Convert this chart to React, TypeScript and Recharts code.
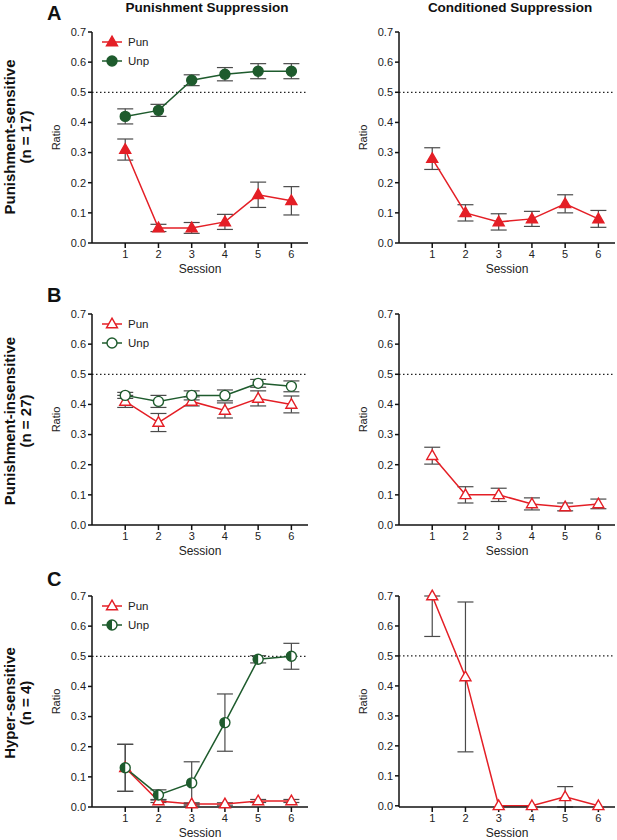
import { LineChart, Line, XAxis, YAxis, ErrorBar, ReferenceLine, Legend, Label } from 'recharts';

const RED = '#e41f26';
const GREEN = '#1e5b2d';
const BAR = '#4a4a4a';
const FONT = '"Liberation Sans", Arial, sans-serif';

const sessions = [1, 2, 3, 4, 5, 6];
const ratioTicks = [0, 0.1, 0.2, 0.3, 0.4, 0.5, 0.6, 0.7];

// A: punishment-sensitive (n = 17)
const sensitivePun = [0.31, 0.05, 0.05, 0.07, 0.16, 0.14];
const sensitivePunErr = [0.035, 0.012, 0.018, 0.025, 0.042, 0.047];
const sensitiveUnp = [0.42, 0.44, 0.54, 0.56, 0.57, 0.57];
const sensitiveUnpErr = [0.025, 0.02, 0.018, 0.022, 0.025, 0.025];
const sensitiveCond = [0.28, 0.1, 0.07, 0.08, 0.13, 0.08];
const sensitiveCondErr = [0.036, 0.027, 0.027, 0.025, 0.03, 0.028];

// B: punishment-insensitive (n = 27)
const insensitivePun = [0.41, 0.34, 0.41, 0.38, 0.42, 0.4];
const insensitivePunErr = [0.02, 0.03, 0.015, 0.025, 0.025, 0.028];
const insensitiveUnp = [0.43, 0.41, 0.43, 0.43, 0.47, 0.46];
const insensitiveUnpErr = [0.01, 0.02, 0.015, 0.018, 0.013, 0.018];
const insensitiveCond = [0.23, 0.1, 0.1, 0.07, 0.06, 0.07];
const insensitiveCondErr = [0.028, 0.027, 0.022, 0.02, 0.013, 0.016];

// C: hyper-sensitive (n = 4)
const hyperPun = [0.13, 0.02, 0.01, 0.01, 0.02, 0.02];
const hyperPunErr = [0.078, 0.005, 0.004, 0.004, 0.005, 0.005];
const hyperUnp = [0.13, 0.04, 0.08, 0.28, 0.49, 0.5];
const hyperUnpErr = [0.078, 0.017, 0.07, 0.095, 0.012, 0.043];
const hyperCond = [0.7, 0.43, 0, 0, 0.03, 0];
const hyperCondErr: (number | number[])[] = [[0.135, 0], 0.25, 0, 0, 0.034, 0];

type Shape = 'triangle' | 'circle' | 'half';

type Series = {
  key: string;
  name: string;
  color: string;
  shape: Shape;
  filled: boolean;
  values: number[];
  errors: (number | number[])[];
};

const marker = (s: Series, cx: number, cy: number, key?: string) => {
  const fill = s.filled ? s.color : '#fff';
  if (s.shape === 'triangle') {
    return (
      <path
        key={key}
        d={`M${cx},${cy - 5.8}L${cx + 5.5},${cy + 3.8}L${cx - 5.5},${cy + 3.8}Z`}
        fill={fill}
        stroke={s.color}
        strokeWidth={1.4}
      />
    );
  }
  if (s.shape === 'half') {
    return (
      <g key={key}>
        <circle cx={cx} cy={cy} r={5} fill="#fff" stroke={s.color} strokeWidth={1.4} />
        <path d={`M${cx},${cy - 5}A5,5 0 0 0 ${cx},${cy + 5}Z`} fill={s.color} />
      </g>
    );
  }
  return <circle key={key} cx={cx} cy={cy} r={5} fill={fill} stroke={s.color} strokeWidth={1.4} />;
};

const ratioLabel = (props: any) => {
  const vb = props.viewBox;
  const x = vb.x + 4;
  const y = vb.y + vb.height / 2;
  return (
    <text
      x={x}
      y={y}
      transform={`rotate(-90, ${x}, ${y})`}
      textAnchor="middle"
      dominantBaseline="central"
      fontSize={11}
      fontFamily={FONT}
      fill="#222"
    >
      Ratio
    </text>
  );
};

const Panel = ({
  left,
  top,
  width,
  right,
  series,
  legend,
}: {
  left: number;
  top: number;
  width: number;
  right: number;
  series: Series[];
  legend?: boolean;
}) => {
  const data = sessions.map((s, i) => {
    const row: Record<string, any> = { session: s };
    series.forEach((sr) => {
      row[sr.key] = sr.values[i];
      row[sr.key + 'Err'] = sr.errors[i];
    });
    return row;
  });

  return (
    <div style={{ position: 'absolute', left, top }}>
      <LineChart width={width} height={257} data={data} margin={{ top: 10, right, bottom: 6, left: 22 }}>
        <XAxis
          dataKey="session"
          type="number"
          domain={[0, 6.5]}
          ticks={sessions}
          height={30}
          tickSize={5}
          stroke="#111"
          strokeWidth={1.5}
          tick={{ fontSize: 11, fill: '#222', fontFamily: FONT }}
          tickMargin={2}
        >
          <Label value="Session" position="insideBottom" offset={0} fontSize={12} fill="#222" fontFamily={FONT} />
        </XAxis>
        <YAxis
          width={40}
          domain={[0, 0.7]}
          ticks={ratioTicks}
          tickFormatter={(v: number) => v.toFixed(1)}
          tickSize={4}
          tickMargin={2}
          stroke="#111"
          strokeWidth={1.5}
          tick={{ fontSize: 11, fill: '#222', fontFamily: FONT }}
        >
          <Label content={ratioLabel} />
        </YAxis>
        <ReferenceLine y={0.5} stroke="#222" strokeWidth={1.2} strokeDasharray="1.5 2.5" />
        {series.map((sr) => (
          <Line
            key={sr.key}
            dataKey={sr.key}
            name={sr.name}
            stroke={sr.color}
            strokeWidth={1.5}
            isAnimationActive={false}
            activeDot={false}
            dot={(p: any) => marker(sr, p.cx, p.cy, `${sr.key}-${p.index}`)}
          >
            <ErrorBar dataKey={sr.key + 'Err'} direction="y" width={8} stroke={BAR} strokeWidth={1.2} />
          </Line>
        ))}
        {legend && (
          <Legend
            layout="vertical"
            align="center"
            verticalAlign="middle"
            wrapperStyle={{ left: 67, top: 11, width: 80, height: 40 }}
            content={() => (
              <svg width={80} height={40}>
                {series.map((sr, i) => {
                  const y = 9 + 19 * i;
                  return (
                    <g key={sr.key}>
                      <line x1={5} x2={25} y1={y} y2={y} stroke={sr.color} strokeWidth={1.5} />
                      {marker(sr, 15, y)}
                      <text x={31} y={y} dominantBaseline="central" fontSize={11.5} fontFamily={FONT} fill="#222">
                        {sr.name}
                      </text>
                    </g>
                  );
                })}
              </svg>
            )}
          />
        )}
      </LineChart>
    </div>
  );
};

const rows = [
  {
    letter: 'A',
    label: 'Punishment-sensitive',
    n: '(n = 17)',
    plotTop: 32,
    letterY: 13,
    mid: 137,
    punSup: [
      { key: 'pun', name: 'Pun', color: RED, shape: 'triangle', filled: true, values: sensitivePun, errors: sensitivePunErr },
      { key: 'unp', name: 'Unp', color: GREEN, shape: 'circle', filled: true, values: sensitiveUnp, errors: sensitiveUnpErr },
    ] as Series[],
    cond: [
      { key: 'cond', name: 'Pun', color: RED, shape: 'triangle', filled: true, values: sensitiveCond, errors: sensitiveCondErr },
    ] as Series[],
  },
  {
    letter: 'B',
    label: 'Punishment-insensitive',
    n: '(n = 27)',
    plotTop: 314,
    letterY: 295,
    mid: 421,
    punSup: [
      { key: 'pun', name: 'Pun', color: RED, shape: 'triangle', filled: false, values: insensitivePun, errors: insensitivePunErr },
      { key: 'unp', name: 'Unp', color: GREEN, shape: 'circle', filled: false, values: insensitiveUnp, errors: insensitiveUnpErr },
    ] as Series[],
    cond: [
      { key: 'cond', name: 'Pun', color: RED, shape: 'triangle', filled: false, values: insensitiveCond, errors: insensitiveCondErr },
    ] as Series[],
  },
  {
    letter: 'C',
    label: 'Hyper-sensitive',
    n: '(n = 4)',
    plotTop: 596,
    letterY: 579,
    mid: 703,
    punSup: [
      { key: 'pun', name: 'Pun', color: RED, shape: 'triangle', filled: false, values: hyperPun, errors: hyperPunErr },
      { key: 'unp', name: 'Unp', color: GREEN, shape: 'half', filled: false, values: hyperUnp, errors: hyperUnpErr },
    ] as Series[],
    cond: [
      { key: 'cond', name: 'Pun', color: RED, shape: 'triangle', filled: false, values: hyperCond, errors: hyperCondErr },
    ] as Series[],
  },
];

const App = () => (
  <div style={{ position: 'absolute', left: 0, top: 0, width: 617, height: 840, overflow: 'hidden', background: '#fff', fontFamily: FONT }}>
    {rows.map((r) => (
      <div key={r.letter}>
        <Panel left={30} top={r.plotTop - 10} width={290} right={12} series={r.punSup} legend />
        <Panel left={337} top={r.plotTop - 10} width={280} right={2} series={r.cond} />
      </div>
    ))}
    <svg width={617} height={840} style={{ position: 'absolute', left: 0, top: 0, pointerEvents: 'none' }}>
      <text x={207} y={7} textAnchor="middle" dominantBaseline="central" fontSize={13.5} fontWeight="bold" fontFamily={FONT} fill="#111">
        Punishment Suppression
      </text>
      <text x={510} y={7} textAnchor="middle" dominantBaseline="central" fontSize={13.5} fontWeight="bold" fontFamily={FONT} fill="#111">
        Conditioned Suppression
      </text>
      {rows.map((r) => (
        <g key={r.letter}>
          <text x={47} y={r.letterY} dominantBaseline="central" fontSize={20} fontWeight="bold" fontFamily={FONT} fill="#111">
            {r.letter}
          </text>
          <text
            x={9}
            y={r.mid}
            transform={`rotate(-90, 9, ${r.mid})`}
            textAnchor="middle"
            dominantBaseline="central"
            fontSize={15}
            fontWeight="bold"
            fontFamily={FONT}
            fill="#111"
          >
            {r.label}
          </text>
          <text
            x={25}
            y={r.mid}
            transform={`rotate(-90, 25, ${r.mid})`}
            textAnchor="middle"
            dominantBaseline="central"
            fontSize={15}
            fontWeight="bold"
            fontFamily={FONT}
            fill="#111"
          >
            {r.n}
          </text>
        </g>
      ))}
    </svg>
  </div>
);

export default App;
